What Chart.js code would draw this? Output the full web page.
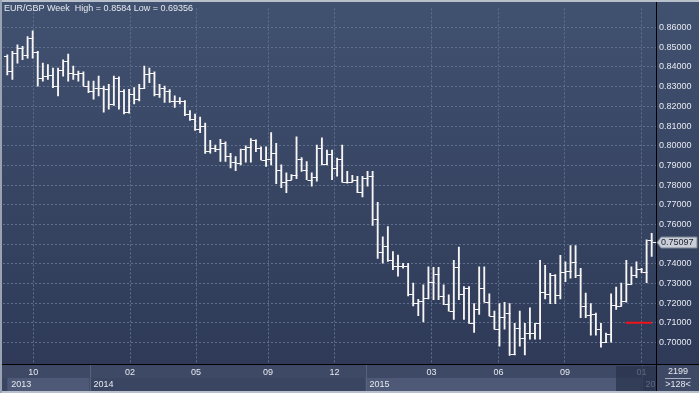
<!DOCTYPE html>
<html>
<head>
<meta charset="utf-8">
<script src="https://cdn.jsdelivr.net/npm/chart.js@4.4.0/dist/chart.umd.min.js"></script>
<style>
  html, body { margin: 0; padding: 0; background: #3a4764; }
  canvas { display: block; }
</style>
</head>
<body>
<canvas id="grafico-eurgbp" width="699" height="393"></canvas>
<script>
// EUR/GBP semanal - barras OHLC

const opens = [
  0.8454, 0.8379, 0.8471, 0.8496, 0.8462, 0.8546, 0.8474, 0.8345, 0.8354, 0.8359,
  0.8303, 0.8387, 0.8429, 0.8370, 0.8362, 0.8370, 0.8303, 0.8278, 0.8295, 0.8295,
  0.8287, 0.8212, 0.8345, 0.8278, 0.8170, 0.8262, 0.8237, 0.8295, 0.8362, 0.8370,
  0.8262, 0.8295, 0.8278, 0.8228, 0.8228, 0.8225, 0.8161, 0.8136, 0.8086, 0.8100,
  0.7974, 0.7987, 0.7983, 0.8015, 0.7948, 0.7917, 0.7912, 0.7982, 0.7995, 0.8028,
  0.7990, 0.7928, 0.7932, 0.7965, 0.7878, 0.7815, 0.7828, 0.7850, 0.7933, 0.7878,
  0.7828, 0.7840, 0.7987, 0.7907, 0.7957, 0.7887, 0.7932, 0.7815, 0.7815, 0.7825,
  0.7765, 0.7837, 0.7845, 0.7627, 0.7458, 0.7492, 0.7420, 0.7390, 0.7387, 0.7387,
  0.7245, 0.7203, 0.7210, 0.7227, 0.7310, 0.7348, 0.7238, 0.7198, 0.7160, 0.7385,
  0.7248, 0.7277, 0.7098, 0.7173, 0.7277, 0.7205, 0.7135, 0.7068, 0.7132, 0.7150,
  0.6940, 0.7072, 0.7022, 0.7048, 0.7048, 0.7098, 0.7255, 0.7248, 0.7343, 0.7240,
  0.7360, 0.7365, 0.7410, 0.7343, 0.7188, 0.7138, 0.7143, 0.7068, 0.7005, 0.7043,
  0.7193, 0.7188, 0.7210, 0.7297, 0.7343, 0.7372, 0.7360, 0.7522
];
const highs = [
  0.8462, 0.8479, 0.8512, 0.8505, 0.8554, 0.8584, 0.8479, 0.8420, 0.8412, 0.8395,
  0.8395, 0.8437, 0.8466, 0.8404, 0.8379, 0.8375, 0.8328, 0.8328, 0.8354, 0.8303,
  0.8312, 0.8354, 0.8350, 0.8285, 0.8287, 0.8295, 0.8312, 0.8404, 0.8395, 0.8375,
  0.8312, 0.8303, 0.8285, 0.8253, 0.8245, 0.8230, 0.8178, 0.8161, 0.8145, 0.8115,
  0.8028, 0.8003, 0.8033, 0.8020, 0.7962, 0.7945, 0.7983, 0.8000, 0.8037, 0.8030,
  0.7995, 0.7995, 0.8067, 0.8012, 0.7903, 0.7862, 0.7853, 0.8045, 0.7940, 0.7920,
  0.7862, 0.8003, 0.8040, 0.7978, 0.7978, 0.7937, 0.8003, 0.7870, 0.7850, 0.7845,
  0.7845, 0.7870, 0.7870, 0.7712, 0.7537, 0.7590, 0.7462, 0.7445, 0.7403, 0.7403,
  0.7303, 0.7220, 0.7293, 0.7385, 0.7382, 0.7382, 0.7293, 0.7243, 0.7418, 0.7485,
  0.7285, 0.7285, 0.7198, 0.7385, 0.7385, 0.7248, 0.7160, 0.7198, 0.7205, 0.7198,
  0.7098, 0.7160, 0.7098, 0.7177, 0.7098, 0.7418, 0.7393, 0.7352, 0.7345, 0.7443,
  0.7410, 0.7493, 0.7493, 0.7377, 0.7252, 0.7198, 0.7150, 0.7098, 0.7048, 0.7248,
  0.7282, 0.7302, 0.7418, 0.7385, 0.7410, 0.7377, 0.7522, 0.7555
];
const lows = [
  0.8360, 0.8337, 0.8420, 0.8437, 0.8445, 0.8445, 0.8303, 0.8328, 0.8337, 0.8295,
  0.8253, 0.8354, 0.8328, 0.8337, 0.8328, 0.8303, 0.8270, 0.8237, 0.8253, 0.8170,
  0.8186, 0.8205, 0.8186, 0.8161, 0.8165, 0.8212, 0.8228, 0.8290, 0.8320, 0.8253,
  0.8245, 0.8220, 0.8220, 0.8195, 0.8212, 0.8153, 0.8128, 0.8078, 0.8066, 0.7961,
  0.7962, 0.7970, 0.7920, 0.7920, 0.7887, 0.7873, 0.7903, 0.7917, 0.7917, 0.7970,
  0.7928, 0.7895, 0.7903, 0.7807, 0.7787, 0.7762, 0.7826, 0.7833, 0.7870, 0.7828,
  0.7795, 0.7820, 0.7903, 0.7903, 0.7828, 0.7845, 0.7815, 0.7810, 0.7815, 0.7762,
  0.7740, 0.7795, 0.7595, 0.7428, 0.7403, 0.7412, 0.7370, 0.7337, 0.7378, 0.7237,
  0.7187, 0.7137, 0.7105, 0.7222, 0.7218, 0.7218, 0.7193, 0.7160, 0.7118, 0.7218,
  0.7118, 0.7098, 0.7052, 0.7143, 0.7205, 0.7135, 0.7068, 0.6982, 0.7068, 0.69356,
  0.6938, 0.6982, 0.6938, 0.7018, 0.7018, 0.7018, 0.7222, 0.7198, 0.7198, 0.7222,
  0.7310, 0.7327, 0.7330, 0.7127, 0.7127, 0.7038, 0.7038, 0.6977, 0.7000, 0.7002,
  0.7168, 0.7185, 0.7205, 0.7295, 0.7330, 0.7355, 0.7305, 0.7438
];
const closes = [
  0.8379, 0.8471, 0.8496, 0.8462, 0.8546, 0.8474, 0.8345, 0.8354, 0.8359, 0.8303,
  0.8387, 0.8429, 0.8370, 0.8362, 0.8370, 0.8303, 0.8278, 0.8295, 0.8295, 0.8287,
  0.8212, 0.8345, 0.8278, 0.8170, 0.8262, 0.8237, 0.8295, 0.8362, 0.8370, 0.8262,
  0.8295, 0.8278, 0.8228, 0.8228, 0.8225, 0.8161, 0.8136, 0.8086, 0.8100, 0.7974,
  0.7987, 0.7983, 0.8015, 0.7948, 0.7917, 0.7912, 0.7982, 0.7995, 0.8028, 0.7990,
  0.7928, 0.7932, 0.7965, 0.7878, 0.7815, 0.7828, 0.7850, 0.7933, 0.7878, 0.7828,
  0.7840, 0.7987, 0.7907, 0.7957, 0.7887, 0.7932, 0.7815, 0.7815, 0.7825, 0.7765,
  0.7837, 0.7845, 0.7627, 0.7458, 0.7492, 0.7420, 0.7390, 0.7387, 0.7387, 0.7245,
  0.7203, 0.7210, 0.7227, 0.7310, 0.7348, 0.7238, 0.7198, 0.7160, 0.7385, 0.7248,
  0.7277, 0.7098, 0.7173, 0.7277, 0.7205, 0.7135, 0.7068, 0.7132, 0.7150, 0.6940,
  0.7072, 0.7022, 0.7048, 0.7048, 0.7098, 0.7255, 0.7248, 0.7343, 0.7240, 0.7360,
  0.7365, 0.7410, 0.7343, 0.7188, 0.7138, 0.7143, 0.7068, 0.7005, 0.7043, 0.7193,
  0.7188, 0.7210, 0.7297, 0.7343, 0.7372, 0.7360, 0.7522, 0.75097
];

// eixo x: posição (em barras) do início de cada mês marcado e de cada ano
const mesesPos = [5.1, 24.2, 37.2, 51.4, 64.5, 83.6, 96.8, 109.9, 125];
const mesesLabels = ["10", "02", "05", "09", "12", "03", "06", "09", "01"];
const anosPos = [0, 16.2, 70.6, 125];
const anosLabels = ["2013", "2014", "2015", "2016"];

// eixo y
const precoTicks = [0.70, 0.71, 0.72, 0.73, 0.74, 0.75, 0.76, 0.77, 0.78, 0.79, 0.80, 0.81, 0.82, 0.83, 0.84, 0.85, 0.86];

// linha de alerta (vermelha)
const alertaNivel = [0.7101, 0.7101];
const alertaBarras = [121.9, 127];

const FONTE = "9px 'Liberation Sans', Arial, sans-serif";
const COR_TEXTO = "#e6e9ef";
const COR_GRADE = "#5f6f8e";

const maxAlta = Math.max(...highs);
const minBaixa = Math.min(...lows);
const ultimo = closes[closes.length - 1];

const fundoPlugin = {
  id: "fundo",
  beforeDraw(chart) {
    const { ctx, width, height, scales: { x } } = chart;
    const base = chart.chartArea.bottom;
    ctx.save();
    const grad = ctx.createLinearGradient(0, 0, 0, base);
    grad.addColorStop(0, "#415170");
    grad.addColorStop(1, "#2e3a57");
    ctx.fillStyle = grad;
    ctx.fillRect(0, 0, width, base);

    // faixa do eixo x
    ctx.fillStyle = "#3d4965";
    ctx.fillRect(0, base, width, height - base);
    ctx.fillStyle = "#394561";
    ctx.fillRect(0, base + 14, 656, height - base - 14);

    anosPos.forEach((p, i) => {
      const x0 = x.getPixelForValue(p);
      const x1 = i < anosPos.length - 1 ? x.getPixelForValue(anosPos[i + 1]) : 656;
      if (i % 2 === 0) {
        ctx.fillStyle = "#4d5976";
        ctx.fillRect(x0, base + 14, x1 - x0, height - base - 16);
      }
      if (i > 0) {
        ctx.fillStyle = "#56627e";
        ctx.fillRect(Math.round(x0), base + 1, 1, height - base - 3);
      }
    });
    ctx.restore();
  },
  afterDatasetsDraw(chart) {
    const { ctx, scales: { x, y } } = chart;
    ctx.save();
    ctx.strokeStyle = "#f8f6f4";
    ctx.lineWidth = 1;
    ctx.beginPath();
    opens.forEach((o, i) => {
      const px = Math.round(x.getPixelForValue(i)) + 0.5;
      const yo = Math.round(y.getPixelForValue(o)) + 0.5;
      const yc = Math.round(y.getPixelForValue(closes[i])) + 0.5;
      ctx.moveTo(px - 3.5, yo);
      ctx.lineTo(px, yo);
      ctx.moveTo(px, yc);
      ctx.lineTo(px + 3.5, yc);
    });
    ctx.stroke();
    ctx.restore();
  },
  afterDraw(chart) {
    const { ctx, width, height, scales: { x, y } } = chart;
    const base = chart.chartArea.bottom;
    ctx.save();
    ctx.font = FONTE;
    ctx.textBaseline = "middle";

    // título
    ctx.fillStyle = COR_TEXTO;
    ctx.textAlign = "left";
    ctx.fillText(`EUR/GBP Week  High = ${maxAlta} Low = ${minBaixa}`, 4, 9);

    // anos
    ctx.save();
    ctx.beginPath();
    ctx.rect(0, base, 655, height - base);
    ctx.clip();
    anosPos.forEach((p, i) => {
      ctx.fillStyle = COR_TEXTO;
      ctx.fillText(anosLabels[i], x.getPixelForValue(p) + 4, base + 21);
    });
    ctx.restore();

    // área escurecida no fim do eixo x
    ctx.fillStyle = "rgba(40, 50, 76, 0.72)";
    ctx.fillRect(616, base + 2, 40, height - base - 4);

    // caixa no canto inferior direito
    ctx.fillStyle = "#3d4965";
    ctx.fillRect(657, base + 1, width - 657, height - base - 3);
    ctx.fillStyle = COR_TEXTO;
    ctx.textAlign = "center";
    ctx.fillText("2199", 678, base + 8);
    ctx.fillText(">128<", 678, base + 21);
    ctx.fillStyle = "#aab2c2";
    ctx.fillRect(665, base + 14, 26, 1);

    // linhas pretas de separação
    ctx.fillStyle = "#000000";
    ctx.fillRect(0, base, width, 1);
    ctx.fillRect(656, 2, 1, height - 2);

    // bordas claras
    ctx.fillStyle = "#b8c0cc";
    ctx.fillRect(0, 0, width, 2);
    ctx.fillRect(0, height - 2, width, 2);
    ctx.fillStyle = "#9aa3b3";
    ctx.fillRect(0, 0, 2, height);

    // marcador do último preço
    const yc = Math.round(y.getPixelForValue(ultimo)) + 0.5;
    ctx.beginPath();
    ctx.moveTo(657, yc);
    ctx.lineTo(661, yc - 5.5);
    ctx.lineTo(697, yc - 5.5);
    ctx.lineTo(697, yc + 5.5);
    ctx.lineTo(661, yc + 5.5);
    ctx.closePath();
    ctx.fillStyle = "#c9ced7";
    ctx.fill();
    ctx.strokeStyle = "#7d8596";
    ctx.lineWidth = 1;
    ctx.stroke();
    ctx.fillStyle = "#1a2030";
    ctx.textAlign = "left";
    ctx.fillText(ultimo.toFixed(5), 661, yc + 0.5);
    ctx.restore();
  }
};

const ctx = document.getElementById("grafico-eurgbp").getContext("2d");

window.graficoEurGbp = new Chart(ctx, {
  type: "bar",
  data: {
    datasets: [
      {
        type: "bar",
        label: "EUR/GBP",
        data: highs.map((h, i) => ({ x: i, y: [lows[i], h] })),
        backgroundColor: "#f8f6f4",
        borderWidth: 0,
        barThickness: 1.2,
        order: 2
      },
      {
        type: "line",
        label: "Alerta",
        data: alertaBarras.map((b, i) => ({ x: b, y: alertaNivel[i] })),
        borderColor: "#f0121a",
        borderWidth: 2.2,
        borderDash: [],
        pointRadius: 0,
        order: 1
      }
    ]
  },
  options: {
    responsive: false,
    animation: false,
    layout: { padding: { top: 3, left: 3, right: 0, bottom: 0 } },
    plugins: {
      legend: { display: false },
      tooltip: { enabled: false },
      title: { display: false }
    },
    scales: {
      x: {
        type: "linear",
        position: "bottom",
        min: -0.85,
        max: 127.85,
        offset: false,
        grid: { color: COR_GRADE, drawTicks: false, offset: false },
        border: { display: false, dash: [2, 2] },
        afterBuildTicks: (scale) => {
          scale.ticks = mesesPos.map(v => ({ value: v }));
        },
        afterFit: (scale) => { scale.height = 29; },
        ticks: {
          autoSkip: false,
          maxRotation: 0,
          padding: 3,
          color: COR_TEXTO,
          font: { family: "'Liberation Sans', Arial, sans-serif", size: 9 },
          callback: (v, i) => mesesLabels[i]
        }
      },
      y: {
        type: "linear",
        position: "right",
        min: 0.68914,
        max: 0.86976,
        grid: { color: COR_GRADE, drawTicks: false },
        border: { display: false, dash: [2, 2] },
        afterBuildTicks: (scale) => {
          scale.ticks = precoTicks.map(v => ({ value: v }));
        },
        afterFit: (scale) => { scale.width = 43; },
        ticks: {
          padding: 3,
          color: COR_TEXTO,
          font: { family: "'Liberation Sans', Arial, sans-serif", size: 9 },
          callback: (v) => Math.abs(v - ultimo) < 0.006 ? "" : v.toFixed(5)
        }
      }
    }
  },
  plugins: [fundoPlugin]
});
</script>
</body>
</html>
